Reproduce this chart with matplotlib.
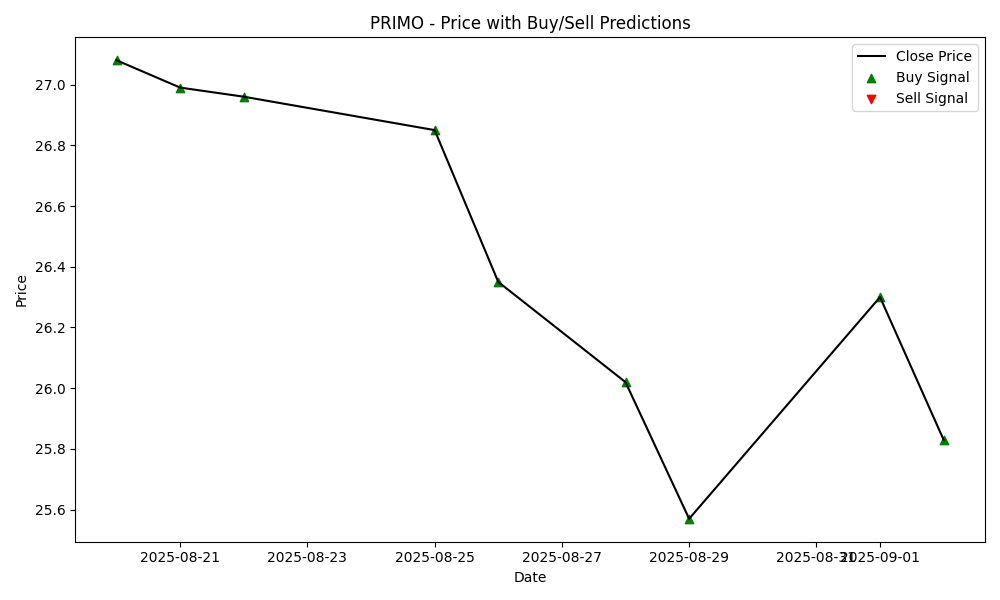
import matplotlib
matplotlib.use("Agg")
import matplotlib.pyplot as plt
import pandas as pd

dates = ["2025-08-20", "2025-08-21", "2025-08-22", "2025-08-25", "2025-08-26",
         "2025-08-28", "2025-08-29", "2025-09-01", "2025-09-02"]
close = [27.08, 26.99, 26.96, 26.85, 26.35, 26.02, 25.57, 26.30, 25.83]
buy_dates = dates
buy_prices = close
sell_dates = []
sell_prices = []

d = pd.to_datetime(dates)
fig, ax = plt.subplots(figsize=(10, 6), dpi=100)
ax.plot(d, close, color="black", label="Close Price")
ax.scatter(pd.to_datetime(buy_dates), buy_prices, marker="^", color="green", label="Buy Signal")
ax.scatter(pd.to_datetime(sell_dates), sell_prices, marker="v", color="red", label="Sell Signal")
ax.set_title("PRIMO - Price with Buy/Sell Predictions")
ax.set_xlabel("Date")
ax.set_ylabel("Price")
ax.legend()
fig.tight_layout()
fig.savefig("out.png")
